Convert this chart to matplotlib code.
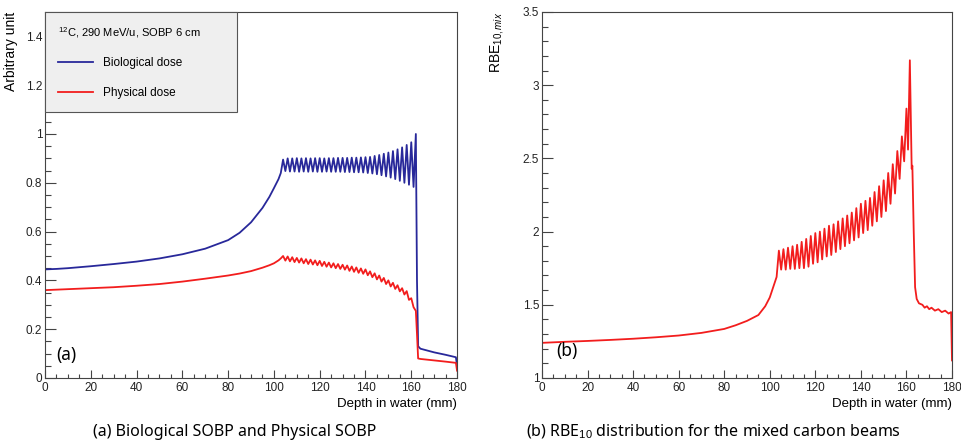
import numpy as np
import matplotlib
matplotlib.use("Agg")
import matplotlib.pyplot as plt
from matplotlib.lines import Line2D

plt.rcParams["font.family"] = ["Liberation Sans", "DejaVu Sans"]
plt.rcParams["mathtext.fontset"] = "custom"
plt.rcParams["mathtext.rm"] = "Liberation Sans"
plt.rcParams["mathtext.it"] = "Liberation Sans:italic"

# ---- data ----
rise_depth = [0, 5, 10, 20, 30, 40, 50, 60, 70, 80, 85, 90, 95, 98, 100, 102, 103]
bio_rise = [0.445, 0.447, 0.450, 0.458, 0.467, 0.477, 0.490, 0.507, 0.530, 0.565,
            0.595, 0.638, 0.697, 0.742, 0.778, 0.815, 0.840]
phys_rise = [0.360, 0.362, 0.364, 0.368, 0.372, 0.378, 0.385, 0.395, 0.407, 0.420,
             0.428, 0.438, 0.452, 0.462, 0.470, 0.482, 0.490]

sobp_depth = np.arange(104, 162)  # 104 ... 161 mm, 1 mm steps
bio_sobp = [0.895, 0.848, 0.900, 0.846, 0.900, 0.846, 0.901, 0.845, 0.900, 0.846,
            0.901, 0.845, 0.900, 0.846, 0.901, 0.845, 0.901, 0.845, 0.900, 0.846,
            0.901, 0.845, 0.901, 0.845, 0.902, 0.845, 0.902, 0.844, 0.902, 0.844,
            0.903, 0.843, 0.903, 0.843, 0.904, 0.842, 0.905, 0.840, 0.906, 0.838,
            0.910, 0.835, 0.914, 0.831, 0.919, 0.826, 0.924, 0.821, 0.930, 0.815,
            0.937, 0.808, 0.945, 0.800, 0.955, 0.792, 0.966, 0.783]
phys_sobp = [0.500, 0.481, 0.498, 0.478, 0.495, 0.475, 0.492, 0.473, 0.490, 0.470,
             0.487, 0.467, 0.485, 0.465, 0.482, 0.462, 0.480, 0.459, 0.476, 0.456,
             0.473, 0.453, 0.470, 0.450, 0.467, 0.447, 0.464, 0.444, 0.461, 0.439,
             0.457, 0.435, 0.453, 0.431, 0.449, 0.427, 0.445, 0.421, 0.437, 0.413,
             0.429, 0.404, 0.420, 0.395, 0.410, 0.385, 0.400, 0.375, 0.390, 0.365,
             0.380, 0.355, 0.368, 0.342, 0.356, 0.320, 0.327, 0.290]

tail_depth = [162, 162.5, 163, 164, 166, 170, 175, 179.5, 180]
bio_tail = [1.000, 0.400, 0.130, 0.120, 0.115, 0.105, 0.095, 0.085, 0.050]
phys_tail = [0.275, 0.180, 0.080, 0.078, 0.076, 0.072, 0.067, 0.062, 0.030]

rbe_rise_depth = [0, 10, 20, 30, 40, 50, 60, 70, 80, 85, 90, 95, 98, 100, 101.5, 103]
rbe_rise = [1.240, 1.247, 1.253, 1.260, 1.268, 1.278, 1.290, 1.308, 1.335, 1.360,
            1.390, 1.430, 1.490, 1.550, 1.620, 1.690]

rbe_sobp_depth = np.arange(104, 161)  # 104 ... 160 mm
rbe_sobp = [1.87, 1.74, 1.88, 1.74, 1.89, 1.745, 1.90, 1.745, 1.91, 1.75,
            1.93, 1.75, 1.95, 1.76, 1.97, 1.78, 1.99, 1.79, 2.00, 1.81,
            2.02, 1.83, 2.04, 1.84, 2.05, 1.86, 2.07, 1.88, 2.09, 1.90,
            2.11, 1.92, 2.13, 1.94, 2.16, 1.96, 2.19, 1.99, 2.21, 2.01,
            2.23, 2.04, 2.27, 2.07, 2.31, 2.10, 2.35, 2.14, 2.40, 2.19,
            2.46, 2.26, 2.55, 2.36, 2.65, 2.48, 2.84]

rbe_tail_depth = [160.7, 161.5, 162.3, 162.6, 163.2, 163.8, 164.5, 165.5, 167, 168,
                  169, 170, 171, 172.5, 174, 175.5, 177, 178.5, 179.6, 180]
rbe_tail = [2.56, 3.17, 2.43, 2.45, 2.00, 1.62, 1.54, 1.51, 1.50, 1.48,
            1.49, 1.47, 1.48, 1.46, 1.47, 1.45, 1.46, 1.44, 1.45, 1.12]

depth = np.concatenate([rise_depth, sobp_depth, tail_depth])
bio = np.concatenate([bio_rise, bio_sobp, bio_tail])
phys = np.concatenate([phys_rise, phys_sobp, phys_tail])
rbe_depth = np.concatenate([rbe_rise_depth, rbe_sobp_depth, rbe_tail_depth])
rbe = np.concatenate([rbe_rise, rbe_sobp, rbe_tail])

BLUE = "#28289a"
RED = "#f21d1d"
AXC = "#444444"
CAPTION_FONT = ["Noto Sans", "DejaVu Sans"]

fig = plt.figure(figsize=(9.62, 4.45), dpi=100)
ax1 = fig.add_axes([0.0468, 0.1506, 0.4283, 0.8225])
ax2 = fig.add_axes([0.5634, 0.1506, 0.4262, 0.8225])


def style(ax, ymajor, yminor):
    ax.set_xlim(0, 180)
    ax.set_xticks(np.arange(0, 181, 20))
    ax.set_xticks(np.arange(0, 181, 5), minor=True)
    ax.set_yticks(ymajor)
    ax.set_yticks(yminor, minor=True)
    ax.tick_params(axis="both", which="both", direction="in", colors=AXC,
                   labelcolor="#222222", labelsize=8.5, width=0.8)
    ax.tick_params(axis="x", which="major", length=6, pad=3)
    ax.tick_params(axis="x", which="minor", length=3)
    ax.tick_params(axis="y", which="major", length=8, pad=2)
    ax.tick_params(axis="y", which="minor", length=4)
    for s in ax.spines.values():
        s.set_color(AXC)
        s.set_linewidth(0.8)
    ax.set_xlabel("Depth in water (mm)", fontsize=9.5, loc="right")
    ax.xaxis.set_label_coords(1.0, -0.055)


# (a) biological and physical dose
ax1.plot(depth, bio, color=BLUE, lw=1.3)
ax1.plot(depth, phys, color=RED, lw=1.3)
ax1.set_ylim(0, 1.5)
style(ax1, [0, 0.2, 0.4, 0.6, 0.8, 1, 1.2, 1.4], np.arange(0, 1.5, 0.05))
ax1.set_yticklabels(["0", "0.2", "0.4", "0.6", "0.8", "1", "1.2", "1.4"])
ax1.set_ylabel("Arbitrary unit", fontsize=10, loc="top")
ax1.yaxis.set_label_coords(-0.065, 1.0)
handles = [Line2D([], [], color=BLUE, lw=1.3), Line2D([], [], color=RED, lw=1.3)]
leg = ax1.legend(handles, ["Biological dose", "Physical dose"],
                 title="$^{12}$C, 290 MeV/u, SOBP 6 cm", title_fontsize=8,
                 fontsize=8.5, loc="upper left", bbox_to_anchor=(0, 1, 0.465, 0),
                 mode="expand", borderaxespad=0, fancybox=False, framealpha=1,
                 facecolor="#efefef", edgecolor="#555555", handlelength=3.0,
                 handletextpad=0.8, labelspacing=1.5, borderpad=1.1,
                 alignment="left")
leg.get_frame().set_linewidth(0.8)
ax1.text(0.028, 0.062, "(a)", transform=ax1.transAxes, fontsize=12.5,
         family=CAPTION_FONT, va="center")

# (b) RBE
ax2.plot(rbe_depth, rbe, color=RED, lw=1.3)
ax2.set_ylim(1, 3.5)
style(ax2, [1, 1.5, 2, 2.5, 3, 3.5], np.arange(1, 3.51, 0.1))
ax2.set_yticklabels(["1", "1.5", "2", "2.5", "3", "3.5"])
ax2.set_ylabel("RBE$_{10,mix}$", fontsize=10, loc="top")
ax2.yaxis.set_label_coords(-0.088, 1.0)
ax2.text(0.035, 0.075, "(b)", transform=ax2.transAxes, fontsize=12.5,
         family=CAPTION_FONT, va="center")

# captions
fig.text(235 / 962, 1 - 432 / 445, "(a) Biological SOBP and Physical SOBP",
         ha="center", va="center", fontsize=11.5, family=CAPTION_FONT)
fig.text(713 / 962, 1 - 432 / 445,
         "(b) RBE$_{10}$ distribution for the mixed carbon beams",
         ha="center", va="center", fontsize=11.5, family=CAPTION_FONT)

fig.savefig("out.png", dpi=100)
